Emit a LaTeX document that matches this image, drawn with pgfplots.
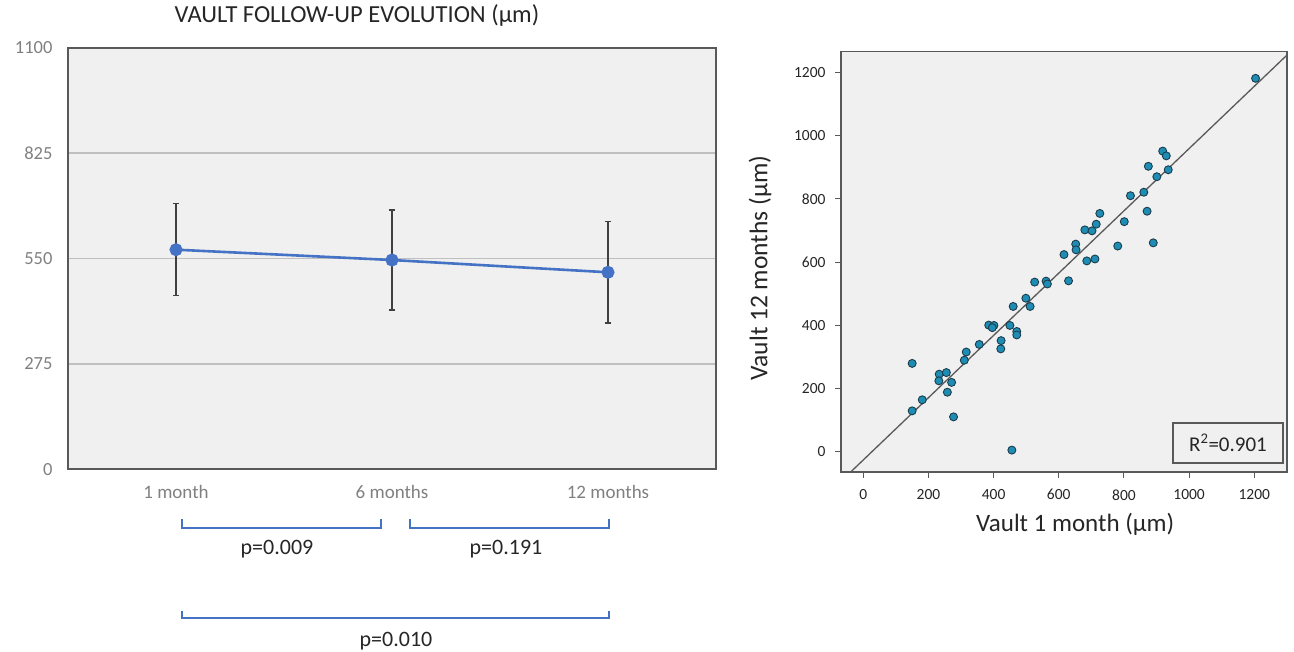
\documentclass[border=0pt]{standalone}
\usepackage{fontspec}
\setmainfont{Carlito}
\usepackage{pgfplots}
\pgfplotsset{compat=1.18}

\definecolor{bgc}{HTML}{F0F0F0}
\definecolor{serblue}{HTML}{4472C4}
\definecolor{gridc}{HTML}{BFBFBF}
\definecolor{framec}{HTML}{595959}
\definecolor{tickc}{HTML}{808080}
\definecolor{errc}{HTML}{404040}
\definecolor{dotfill}{HTML}{1F8DB3}
\definecolor{dotedge}{HTML}{1A3D4D}
\definecolor{txt}{HTML}{262626}

\newcommand{\fs}[1]{\fontsize{#1}{#1}\selectfont}

\begin{document}
\begin{tikzpicture}[x=1pt,y=1pt]
\path[use as bounding box] (0,0) rectangle (1294,652);

% left: mean vault over follow-up
\begin{axis}[
  at={(68pt,182.7pt)}, anchor=south west,
  width=648pt, height=421.6pt, scale only axis,
  xmin=-0.5, xmax=2.5, ymin=0, ymax=1100,
  axis background/.style={fill=bgc},
  axis line style={framec, line width=1.8pt},
  xtick={0,1,2}, xticklabels={1 month,6 months,12 months},
  ytick={0,275,550,825,1100},
  major tick length=0pt,
  ymajorgrids, grid style={gridc, line width=1.5pt},
  /pgf/number format/assume math mode=true,
  /pgf/number format/1000 sep={},
  yticklabel style={tickc, font=\fs{18.5}, xshift=-12pt},
  xticklabel style={tickc, font=\fs{19}, yshift=-12pt},
  title={VAULT FOLLOW-UP EVOLUTION (µm)},
  title style={at={(axis description cs:0.446,1.046)}, anchor=base, font=\fs{24.5}, txt},
  clip=false,
]
\addplot[serblue, line width=2.6pt, mark=*, mark size=5.2pt,
  error bars/.cd, y dir=both, y explicit,
  error bar style={errc, line width=1.6pt},
  error mark options={errc, rotate=90, mark size=3pt, line width=1.6pt}]
  coordinates {
    (0,573) +- (0,120)
    (1,546) +- (0,131)
    (2,514) +- (0,132)
  };
\end{axis}

% significance brackets
\begin{scope}[serblue, line width=2pt]
\draw (181.7,133) -- (181.7,124.3) -- (380.7,124.3) -- (380.7,133);
\draw (410,133) -- (410,124.3) -- (609.3,124.3) -- (609.3,133);
\draw (181.7,41) -- (181.7,33.7) -- (609.3,33.7) -- (609.3,41);
\end{scope}
\node[anchor=base, font=\fs{22}, txt, inner sep=0] at (277,97) {p=0.009};
\node[anchor=base, font=\fs{22}, txt, inner sep=0] at (506,97) {p=0.191};
\node[anchor=base, font=\fs{22}, txt, inner sep=0] at (396,5) {p=0.010};

% right: 12 months vs 1 month
\begin{axis}[
  at={(841pt,180pt)}, anchor=south west,
  width=446pt, height=420.3pt, scale only axis,
  xmin=-68.4, xmax=1300.5, ymin=-63.2, ymax=1265.2,
  axis background/.style={fill=bgc},
  axis line style={framec, line width=1.3pt},
  xtick={0,200,...,1200}, ytick={0,200,...,1200},
  xtick pos=bottom, ytick pos=left, tick align=outside,
  major tick length=6pt, tick style={framec, line width=1pt},
  /pgf/number format/assume math mode=true,
  /pgf/number format/1000 sep={},
  xticklabel style={txt, font=\fs{15.5}, yshift=-8pt},
  yticklabel style={txt, font=\fs{15.5}, xshift=-6pt},
  xlabel={Vault 1 month (µm)},
  ylabel={Vault 12 months (µm)},
  xlabel style={at={(axis description cs:0.525,-0.1237)}, anchor=center, font=\fs{25}, txt},
  ylabel style={at={(axis description cs:-0.1816,0.4854)}, anchor=center, font=\fs{25.5}, txt},
]
\addplot[framec, line width=1.3pt] coordinates {(-70,-94) (1310,1264)};
\addplot[only marks, mark=*, mark size=4pt,
  mark options={fill=dotfill, draw=dotedge, line width=0.9pt}]
  table {
x y
1204 1181
919 951
930 936
875 903
901 870
936 892
820 810
861 821
871 761
801 728
890 661
781 651
726 754
715 720
680 702
702 699
652 657
653 639
616 624
686 604
711 610
630 541
526 537
561 540
565 531
499 486
460 460
512 460
385 401
401 400
396 393
450 400
471 381
471 370
423 352
422 326
356 340
316 316
310 290
150 280
233 246
255 251
232 225
271 220
258 189
181 165
150 130
277 111
456 6
  };
\end{axis}

\draw[framec, line width=1.5pt] (1173,189) rectangle (1283,229);
\node[font=\fs{21}, txt] at (1228,209) {R\textsuperscript{2}=0.901};
\end{tikzpicture}
\end{document}
